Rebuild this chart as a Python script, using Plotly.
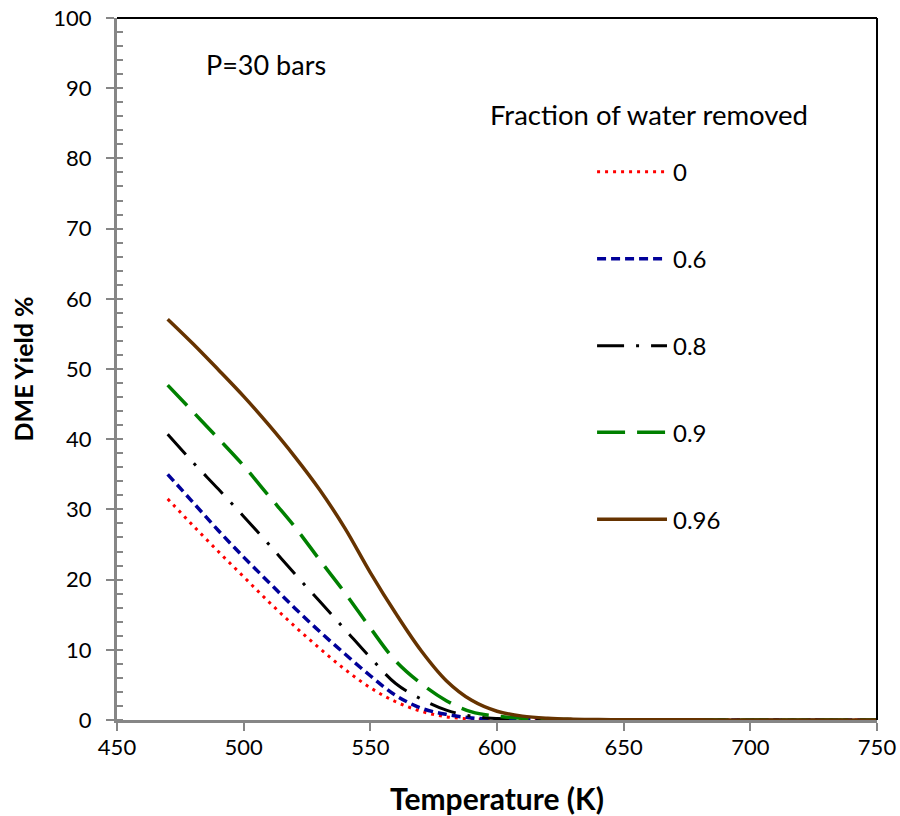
import plotly.graph_objects as go

temperature = [470, 480, 490, 500, 510, 520, 530, 540, 550, 560, 570, 580, 590, 600,
               610, 620, 630, 640, 650, 660, 680, 700, 725, 750]

yield_0 = [31.5, 27.7, 24.0, 20.4, 16.8, 13.4, 10.2, 7.2, 4.6, 2.6, 1.25, 0.45, 0.15, 0.05,
           0.02, 0.01, 0.0, 0.0, 0.0, 0.0, 0.0, 0.0, 0.0, 0.0]
yield_06 = [35.0, 31.0, 27.0, 23.2, 19.6, 16.0, 12.6, 9.4, 6.3, 3.5, 1.7, 0.8, 0.3, 0.1,
            0.04, 0.02, 0.01, 0.0, 0.0, 0.0, 0.0, 0.0, 0.0, 0.0]
yield_08 = [40.7, 36.7, 32.9, 29.0, 25.0, 20.9, 16.9, 12.9, 8.9, 5.2, 3.0, 1.4, 0.55, 0.2,
            0.08, 0.04, 0.02, 0.01, 0.0, 0.0, 0.0, 0.0, 0.0, 0.0]
yield_09 = [47.7, 43.9, 40.1, 36.2, 31.9, 27.6, 22.8, 18.1, 13.1, 8.4, 5.2, 2.75, 1.15, 0.55,
            0.25, 0.12, 0.06, 0.03, 0.02, 0.01, 0.0, 0.0, 0.0, 0.0]
yield_096 = [57.1, 53.6, 49.9, 46.1, 42.0, 37.6, 32.8, 27.3, 21.0, 15.2, 9.9, 5.6, 2.8, 1.25,
             0.55, 0.25, 0.12, 0.06, 0.04, 0.03, 0.02, 0.01, 0.01, 0.01]

series_names = ["0", "0.6", "0.8", "0.9", "0.96"]
series_values = [yield_0, yield_06, yield_08, yield_09, yield_096]
series_colors = ["#FF0000", "#000099", "#000000", "#008000", "#663300"]
series_dashes = ["3px,5px", "9px,5px", "27px,12px,3px,12px", "28px,12px", "solid"]
series_widths = [3, 3.5, 3, 3.5, 3.5]
legend_y = [78.1, 65.7, 53.3, 41.0, 28.6]

x_ticks = [450, 500, 550, 600, 650, 700, 750]
y_ticks = [0, 10, 20, 30, 40, 50, 60, 70, 80, 90, 100]

FONT = "Lato"
GRAY = "#868686"

fig = go.Figure()
for name, vals, col, dash, w in zip(series_names, series_values, series_colors,
                                    series_dashes, series_widths):
    fig.add_trace(go.Scatter(
        x=temperature, y=vals, mode="lines", name=name,
        line=dict(color=col, dash=dash, width=w, shape="spline", smoothing=1.0),
        showlegend=False, cliponaxis=True))

# manual legend
for name, col, dash, w, ly in zip(series_names, series_colors, series_dashes,
                                  series_widths, legend_y):
    fig.add_shape(type="line", xref="x", yref="y", x0=639.5, x1=667.1, y0=ly, y1=ly,
                  line=dict(color=col, dash=dash, width=w))
    fig.add_annotation(x=668.5, y=ly, xref="x", yref="y", text=name, showarrow=False,
                       xanchor="left", yanchor="middle",
                       font=dict(family=FONT, size=24, color="black"))

fig.add_annotation(x=484.5, y=93.4, xref="x", yref="y", text="P=30 bars", showarrow=False,
                   xanchor="left", yanchor="middle", font=dict(family=FONT, size=27, color="black"))
fig.add_annotation(x=596.5, y=86.2, xref="x", yref="y", text="Fraction of water removed",
                   showarrow=False, xanchor="left", yanchor="middle",
                   font=dict(family=FONT, size=27.5, color="black"))

# top and right border
fig.add_shape(type="line", xref="paper", yref="paper", x0=0, x1=1, y0=1, y1=1,
              line=dict(color="black", width=2))
fig.add_shape(type="line", xref="paper", yref="paper", x0=1, x1=1, y0=0, y1=1,
              line=dict(color="black", width=2))

fig.update_layout(
    width=900, height=816,
    margin=dict(l=117, r=23, t=18, b=96),
    paper_bgcolor="white", plot_bgcolor="white",
    font=dict(family=FONT, size=22, color="black"),
    xaxis=dict(
        range=[450, 750], tickvals=x_ticks, showgrid=False, zeroline=False,
        automargin=False,
        showline=True, linecolor=GRAY, linewidth=3,
        ticks="outside", ticklen=8, tickwidth=1.5, tickcolor=GRAY,
        ticklabelstandoff=-2,
        tickfont=dict(family=FONT, size=22, color="black"),
        title=dict(text="<b>Temperature (K)</b>", standoff=31,
                   font=dict(family=FONT, size=30, color="black")),
    ),
    yaxis=dict(
        range=[0, 100], tickvals=y_ticks, showgrid=False, zeroline=False,
        automargin=False,
        showline=True, linecolor=GRAY, linewidth=3,
        ticks="outside", ticklen=8, tickwidth=1.5, tickcolor=GRAY,
        ticklabelstandoff=10,
        minor=dict(ticks="inside", dtick=2, ticklen=6, tickwidth=1.5, tickcolor=GRAY),
        tickfont=dict(family=FONT, size=22, color="black"),
        title=dict(text="<b>DME Yield %</b>", standoff=13,
                   font=dict(family=FONT, size=25, color="black")),
    ),
)

fig.write_html("out.html", config={"displayModeBar": False},
               post_script="document.body.style.margin='0px';document.body.style.overflow='hidden';")
